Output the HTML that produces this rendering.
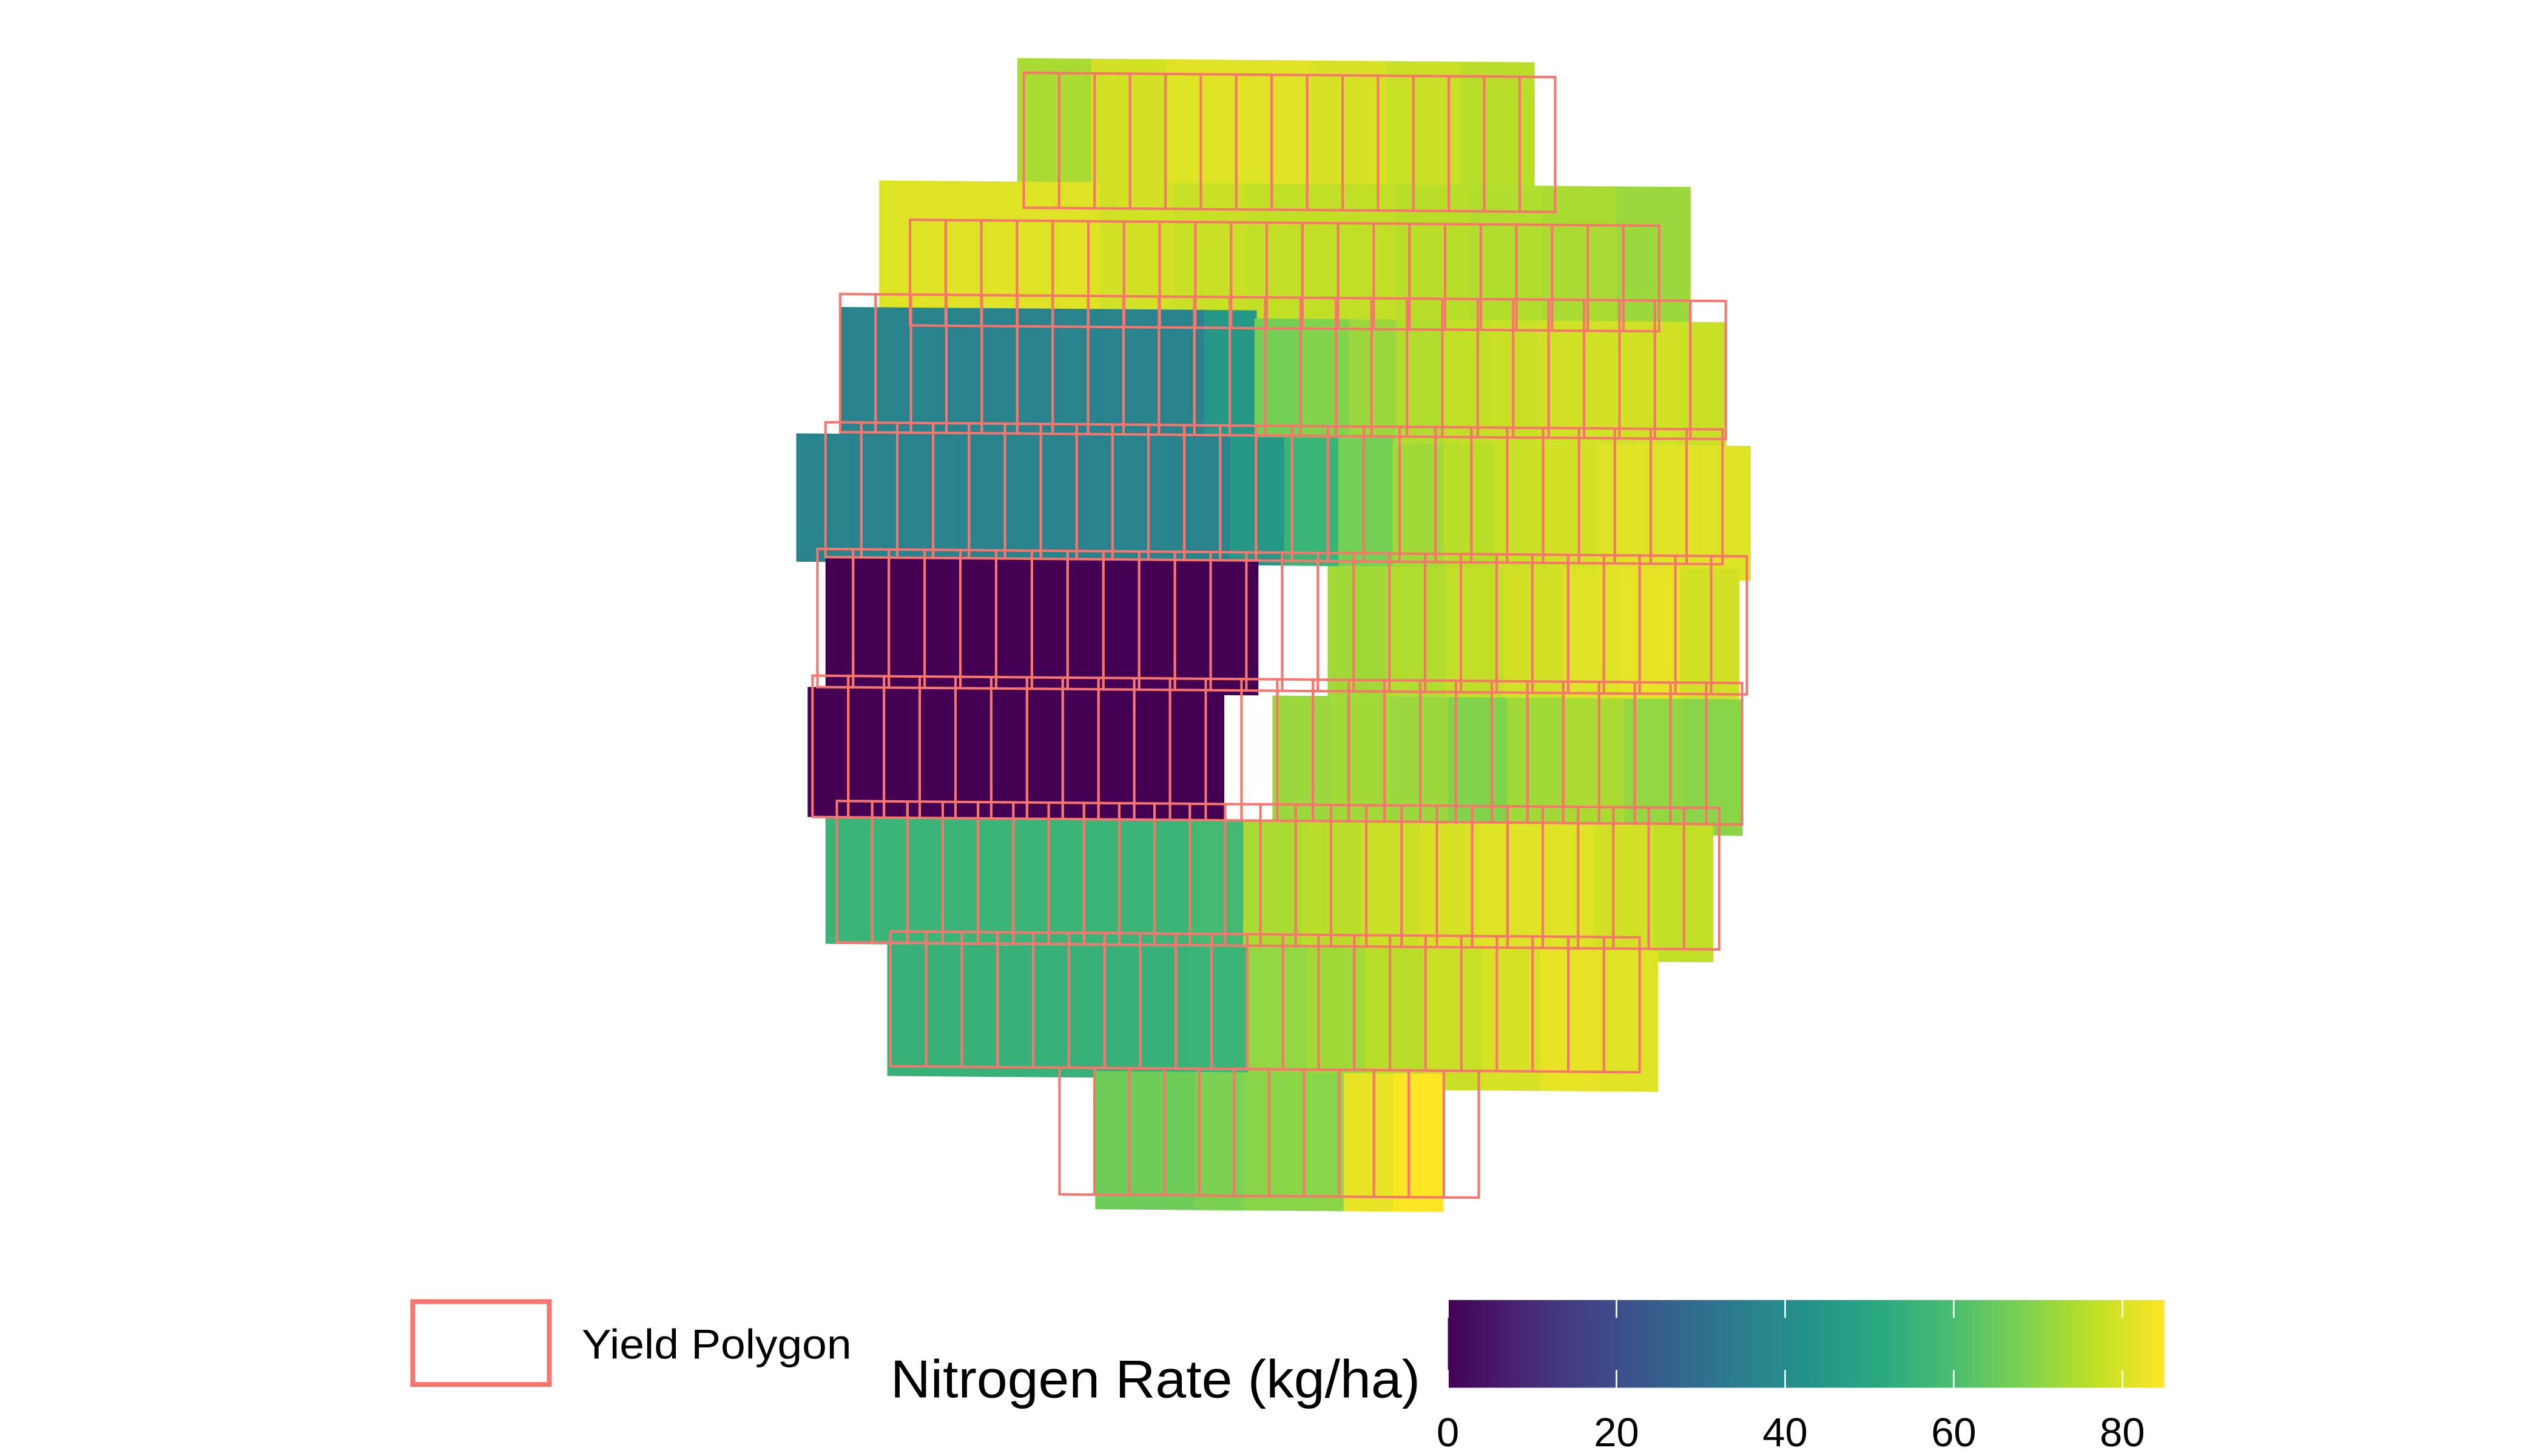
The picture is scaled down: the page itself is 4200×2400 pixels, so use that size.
<!DOCTYPE html>
<html><head><meta charset="utf-8"><style>
html,body{margin:0;padding:0;background:#fff;width:4200px;height:2400px;overflow:hidden}
svg{display:block}
text{font-family:"Liberation Sans",sans-serif;fill:#000}
</style></head><body>
<svg id="chart" width="4200" height="2400" viewBox="0 0 1568 896" preserveAspectRatio="none" xmlns="http://www.w3.org/2000/svg">
<defs><linearGradient id="vgrad" x1="0" x2="1" y1="0" y2="0"></linearGradient></defs>
<g id="bands"></g>
<g id="yield"></g>
<g id="legend">
  <rect x="254" y="801" width="84" height="51" fill="#fff" stroke="#F8766D" stroke-width="3"/>
  <text x="358" y="836" font-size="25.5" textLength="166" lengthAdjust="spacingAndGlyphs">Yield Polygon</text>
  <text x="548" y="860" font-size="33" textLength="326" lengthAdjust="spacingAndGlyphs">Nitrogen Rate (kg/ha)</text>
  <rect id="cbar" x="891" y="800" width="441" height="54" fill="url(#vgrad)"/>
  <g id="cticks"></g>
</g>
</svg>
<script>
const cbarTicks=[0,20,40,60,80];
const cbarMax=85;
// nitrogen rate values per segment for each applied-rate band
const band1=[74,79,81,81,80,78,76];
const band2=[81,81,81,79,78,77,77,76,75,74,72];
const band3L=[37,37,37,37,37,37,37,45];
const band3R=[67,69,72,75,77,78,79,79,79,78];
const band4L=[37,37,37,37,37,37,37,37,45,56,67];
const band4R=[73,76,78,79,81,81,81];
const band5L=[0,0,0,0,0,0,0,0];
const band5R=[73,75,77,79,81,82,79];
const band6L=[0,0,0,0,0,0,0,0];
const band6R=[72,73,72,69,73,74,71,70];
const band7L=[56,56,56,56,56,56,56,58];
const band7R=[74,76,78,80,81,81,79,77];
const band8L=[55,55,55,55,55,56];
const band8R=[71,73,76,78,80,82,81];
const band9=[66,66,68,70,70,82,85];

const bandGeom=[
 [band1,626,944,37,127],[band2,541,1040,113,198],
 [band3L,517,773,191,270],[band3R,772,1062,196,272],
 [band4L,490,857,269,348],[band4R,857,1077,272,355],
 [band5L,508,774,345,428],[band5R,817,1070,348,428],
 [band6L,497,753,425,505],[band6R,783,1072,428,512],
 [band7L,508,765,505,583],[band7R,765,1054,505,590],
 [band8L,546,768,583,664],[band8R,768,1020,583,670],
 [band9,674,888,660,745]];
const yieldRows=[[630,957,46,129,15],[560,1021,137,202,21],[517,1062,183,268,25],[508,1060,262,345,25],
 [503,1075,340,425,26],[500,1072,418,505,26],[515,1058,495,582,25],[548,1009,575,658,21],[652,910,658,736,12]];

const vir=[[68,1,84],[72,36,117],[65,68,135],[53,95,141],[44,124,142],[36,145,138],[40,168,128],[72,188,112],[122,209,81],[189,223,38],[253,231,37]];
function col(v){let t=Math.max(0,Math.min(1,v/cbarMax))*(vir.length-1);let i=Math.min(vir.length-2,Math.floor(t)),f=t-i;
 const c=vir[i].map((a,k)=>Math.round(a+(vir[i+1][k]-a)*f));return `rgb(${c[0]},${c[1]},${c[2]})`;}
const slope=0.008;
function yOff(x){return (x-780)*slope;}
function quad(x0,x1,y0,y1){return `${x0},${y0+yOff(x0)} ${x1},${y0+yOff(x1)} ${x1},${y1+yOff(x1)} ${x0},${y1+yOff(x0)}`;}
const NS="http://www.w3.org/2000/svg";
const bg=document.getElementById('bands');
bandGeom.forEach((b,bi)=>{const vals=b[0],w=(b[2]-b[1])/vals.length;
 vals.forEach((v,i)=>{const p=document.createElementNS(NS,'polygon');
  p.setAttribute('points',quad(b[1]+i*w,b[1]+(i+1)*w+0.4,b[3],b[4]));
  p.setAttribute('fill',col(v));
  
  
  bg.appendChild(p);});});
const yg=document.getElementById('yield');
yieldRows.forEach(r=>{const w=(r[1]-r[0])/r[4];
 for(let i=0;i<r[4];i++){const p=document.createElementNS(NS,'polygon');
  p.setAttribute('points',quad(r[0]+i*w,r[0]+(i+1)*w,r[2],r[3]));
  p.setAttribute('fill','none');p.setAttribute('stroke','#F8766D');p.setAttribute('stroke-width','1.5');
  
  
  yg.appendChild(p);}});
const gr=document.getElementById('vgrad');
for(let i=0;i<=20;i++){const s=document.createElementNS(NS,'stop');s.setAttribute('offset',i/20);s.setAttribute('stop-color',col(i/20*cbarMax));gr.appendChild(s);}
const bx=891,bw=441,by=800,bh=54;
const ct=document.getElementById('cticks');
cbarTicks.forEach(t=>{const x=bx+t/cbarMax*bw;
 [[by,by+11],[by+bh-11,by+bh]].forEach(s=>{const l=document.createElementNS(NS,'line');
  l.setAttribute('x1',x);l.setAttribute('x2',x);l.setAttribute('y1',s[0]);l.setAttribute('y2',s[1]);
  l.setAttribute('stroke','#fff');l.setAttribute('stroke-width','1');
  
  
  ct.appendChild(l);});
 const tx=document.createElementNS(NS,'text');tx.setAttribute('x',x);tx.setAttribute('y',890);
 tx.setAttribute('text-anchor','middle');tx.setAttribute('font-size','25');tx.textContent=t;
 
 
 ct.appendChild(tx);});
</script>
</body></html>
